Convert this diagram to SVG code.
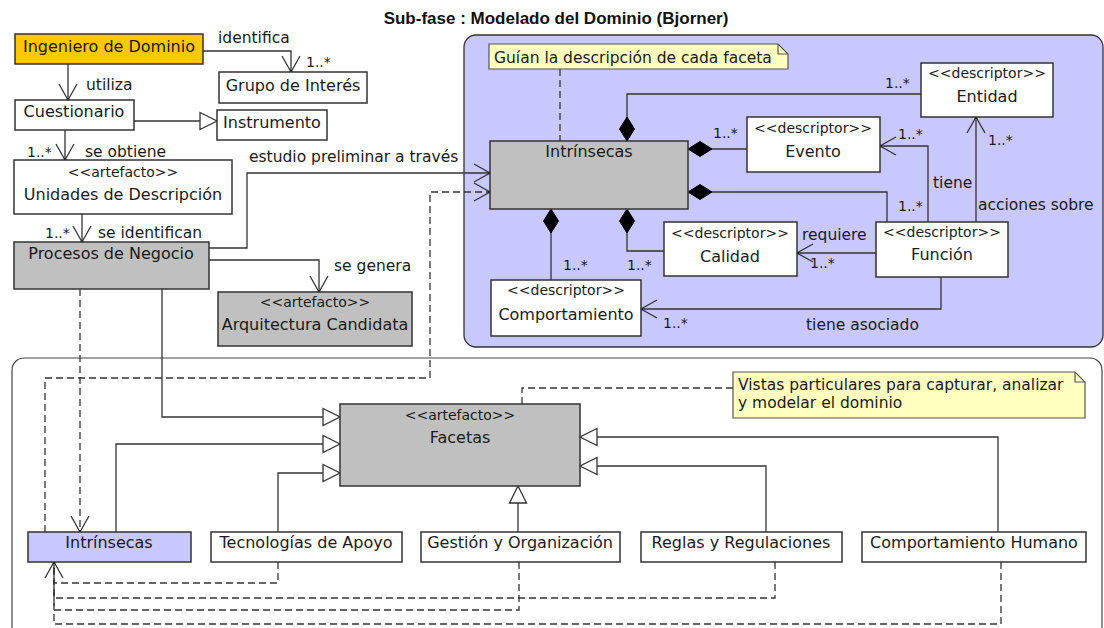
<svg xmlns="http://www.w3.org/2000/svg" width="1104" height="628" viewBox="0 0 1104 628">
  <style>
    .box { stroke: #333; stroke-width: 1.5; }
    .w { fill: #ffffff; }
    .g { fill: #c0c0c0; }
    .o { fill: #ffc800; }
    .p { fill: #c8c8ff; }
    .nt { fill: #ffffc0; stroke: #555; stroke-width: 1.2; }
    .t { font-family: "DejaVu Sans", "Liberation Sans", sans-serif; font-size: 16px; fill: #1a1a1a; }
    .st { font-size: 14px; }
    .lb { font-size: 15.5px; }
    .m { font-size: 14px; }
    .c { text-anchor: middle; }
    .ln { fill: none; stroke: #333; stroke-width: 1.3; }
    .dash { stroke-dasharray: 7 4; }
    .open { marker-end: url(#open); }
    .gen { marker-end: url(#gen); }
    .dia { marker-start: url(#dia); }
  </style>
  <defs>
    <marker id="open" viewBox="-18 -11 20 22" refX="0" refY="0" markerWidth="20" markerHeight="22" orient="auto" markerUnits="userSpaceOnUse">
      <path d="M-16,-9 L0,0 L-16,9" fill="none" stroke="#333" stroke-width="1.3"/>
      <circle cx="0" cy="0" r="1.6" fill="#111"/>
    </marker>
    <marker id="gen" viewBox="-19 -10 21 20" refX="0" refY="0" markerWidth="21" markerHeight="20" orient="auto" markerUnits="userSpaceOnUse">
      <path d="M-17,-8.5 L0,0 L-17,8.5 Z" fill="#ffffff" stroke="#333" stroke-width="1.3"/>
    </marker>
    <marker id="dia" viewBox="-1 -9 27 18" refX="0" refY="0" markerWidth="27" markerHeight="18" orient="auto" markerUnits="userSpaceOnUse">
      <path d="M0,0 L12,-7.5 L24,0 L12,7.5 Z" fill="#000" stroke="#000" stroke-width="1"/>
    </marker>
  </defs>

  <rect x="0" y="0" width="1104" height="628" fill="#ffffff"/>

  <!-- title -->
  <text x="556" y="24" text-anchor="middle" font-family="Liberation Sans, Arial, sans-serif" font-size="17" font-weight="bold" fill="#111">Sub-fase : Modelado del Dominio (Bjorner)</text>

  <!-- package panels -->
  <g id="panel-intrinsecas">
    <rect x="464" y="35" width="639" height="312" rx="12" fill="#c8c8ff" stroke="#333" stroke-width="1.3"/>
  </g>
  <g id="panel-facetas">
    <rect x="12" y="358" width="1090" height="290" rx="12" fill="#ffffff" stroke="#444" stroke-width="1.2"/>
  </g>

  <!-- connectors -->
  <g id="connectors">
    <path class="ln open" d="M203,51 H291 V72"/>
    <path class="ln open" d="M68,64 V100"/>
    <path class="ln gen" d="M134,121 H217"/>
    <path class="ln open" d="M65,130 V160"/>
    <path class="ln open" d="M82,214 V242"/>
    <path class="ln open" d="M209,248 H247 V173 H490"/>
    <path class="ln open" d="M209,260 H319 V292"/>
    <path class="ln dash open" d="M80,289 V532"/>
    <path class="ln dash open" d="M45,532 V378 H430 V192 H490"/>
    <path class="ln gen" d="M162,289 V417 H340"/>

    <!-- composition inside the panel -->
    <path class="ln dia" d="M627,141 V94 H921"/>
    <path class="ln dia" d="M688,149 H747"/>
    <path class="ln dia" d="M688,192 H887 V222"/>
    <path class="ln dia" d="M627,209 V251 H664"/>
    <path class="ln dia" d="M551,209 V280"/>
    <path class="ln open" d="M876,253 H797"/>
    <path class="ln open" d="M928,222 V146 H880"/>
    <path class="ln open" d="M976,222 V117"/>
    <path class="ln open" d="M941,277 V309 H641"/>
    <path class="ln dash" d="M560,69 V141"/>

    <!-- facet generalizations -->
    <path class="ln gen" d="M116,532 V444 H340"/>
    <path class="ln gen" d="M278,532 V473 H340"/>
    <path class="ln gen" d="M518,532 V486"/>
    <path class="ln gen" d="M766,532 V466 H580"/>
    <path class="ln gen" d="M998,532 V437 H580"/>
    <path class="ln dash" d="M733,388 H522 V404"/>

    <!-- dependencies toward Intrínsecas -->
    <path class="ln dash" d="M278,562 V583 H54 V562"/>
    <path class="ln dash" d="M775,562 V598 H54 V562"/>
    <path class="ln dash" d="M519,562 V610 H54 V562"/>
    <path class="ln dash open" d="M1001,562 V624 H54 V562"/>

    <!-- labels -->
    <text class="t lb" x="218" y="43">identifica</text>
    <text class="t m" x="306" y="67">1..*</text>
    <text class="t lb" x="86" y="90">utiliza</text>
    <text class="t m" x="27" y="157">1..*</text>
    <text class="t lb" x="85" y="157">se obtiene</text>
    <text class="t m" x="45" y="238">1..*</text>
    <text class="t lb" x="98" y="238">se identifican</text>
    <text class="t lb" x="249" y="162">estudio preliminar a través</text>
    <text class="t lb" x="334" y="271">se genera</text>
    <text class="t m" x="885" y="88">1..*</text>
    <text class="t m" x="713" y="138">1..*</text>
    <text class="t m" x="898" y="139">1..*</text>
    <text class="t m" x="988" y="145">1..*</text>
    <text class="t lb" x="933" y="188">tiene</text>
    <text class="t m" x="898" y="211">1..*</text>
    <text class="t lb" x="978" y="210">acciones sobre</text>
    <text class="t lb" x="802" y="240">requiere</text>
    <text class="t m" x="810" y="268">1..*</text>
    <text class="t m" x="563" y="270">1..*</text>
    <text class="t m" x="627" y="270">1..*</text>
    <text class="t m" x="663" y="328">1..*</text>
    <text class="t lb" x="806" y="330">tiene asociado</text>
  </g>

  <!-- nodes -->
  <g id="n-ingeniero">
    <rect class="box o" x="15" y="34" width="188" height="30"/>
    <text class="t c" x="109" y="52">Ingeniero de Dominio</text>
  </g>
  <g id="n-grupo">
    <rect class="box w" x="219" y="72" width="148" height="31"/>
    <text class="t c" x="293" y="91">Grupo de Interés</text>
  </g>
  <g id="n-cuestionario">
    <rect class="box w" x="15" y="100" width="119" height="30"/>
    <text class="t c" x="74" y="117">Cuestionario</text>
  </g>
  <g id="n-instrumento">
    <rect class="box w" x="217" y="110" width="110" height="30"/>
    <text class="t c" x="272" y="128">Instrumento</text>
  </g>
  <g id="n-unidades">
    <rect class="box w" x="14" y="160" width="218" height="54"/>
    <text class="t st c" x="123" y="177">&lt;&lt;artefacto&gt;&gt;</text>
    <text class="t c" x="123" y="200">Unidades de Descripción</text>
  </g>
  <g id="n-procesos">
    <rect class="box g" x="14" y="242" width="195" height="47"/>
    <text class="t c" x="111" y="259">Procesos de Negocio</text>
  </g>
  <g id="n-arquitectura">
    <rect class="box g" x="218" y="292" width="194" height="54"/>
    <text class="t st c" x="315" y="307">&lt;&lt;artefacto&gt;&gt;</text>
    <text class="t c" x="315" y="330">Arquitectura Candidata</text>
  </g>

  <g id="note-guia">
    <path class="nt" d="M489,44 H778 L788,54 V69 H489 Z"/>
    <path d="M778,44 V54 H788" fill="none" stroke="#555" stroke-width="1.2"/>
    <text class="t lb" x="494" y="63">Guían la descripción de cada faceta</text>
  </g>
  <g id="n-intrinsecas-sup">
    <rect class="box g" x="490" y="141" width="198" height="68"/>
    <text class="t c" x="589" y="157">Intrínsecas</text>
  </g>
  <g id="n-entidad">
    <rect class="box w" x="921" y="63" width="132" height="54"/>
    <text class="t st c" x="987" y="78">&lt;&lt;descriptor&gt;&gt;</text>
    <text class="t c" x="987" y="102">Entidad</text>
  </g>
  <g id="n-evento">
    <rect class="box w" x="747" y="117" width="133" height="55"/>
    <text class="t st c" x="813" y="133">&lt;&lt;descriptor&gt;&gt;</text>
    <text class="t c" x="813" y="157">Evento</text>
  </g>
  <g id="n-calidad">
    <rect class="box w" x="664" y="222" width="133" height="54"/>
    <text class="t st c" x="730" y="238">&lt;&lt;descriptor&gt;&gt;</text>
    <text class="t c" x="730" y="262">Calidad</text>
  </g>
  <g id="n-funcion">
    <rect class="box w" x="876" y="222" width="132" height="55"/>
    <text class="t st c" x="942" y="237">&lt;&lt;descriptor&gt;&gt;</text>
    <text class="t c" x="942" y="260">Función</text>
  </g>
  <g id="n-comportamiento">
    <rect class="box w" x="491" y="280" width="150" height="56"/>
    <text class="t st c" x="566" y="295">&lt;&lt;descriptor&gt;&gt;</text>
    <text class="t c" x="566" y="320">Comportamiento</text>
  </g>

  <g id="note-vistas">
    <path class="nt" d="M733,372 H1075 L1085,382 V418 H733 Z"/>
    <path d="M1075,372 V382 H1085" fill="none" stroke="#555" stroke-width="1.2"/>
    <text class="t lb" x="738" y="390">Vistas particulares para capturar, analizar</text>
    <text class="t lb" x="738" y="408">y modelar el dominio</text>
  </g>
  <g id="n-facetas">
    <rect class="box g" x="340" y="404" width="240" height="82"/>
    <text class="t st c" x="460" y="420">&lt;&lt;artefacto&gt;&gt;</text>
    <text class="t c" x="460" y="443">Facetas</text>
  </g>
  <g id="n-intrinsecas">
    <rect class="box p" x="28" y="532" width="163" height="30"/>
    <text class="t c" x="109" y="548">Intrínsecas</text>
  </g>
  <g id="n-tecnologias">
    <rect class="box w" x="211" y="532" width="191" height="30"/>
    <text class="t c" x="306" y="548">Tecnologías de Apoyo</text>
  </g>
  <g id="n-gestion">
    <rect class="box w" x="421" y="532" width="199" height="30"/>
    <text class="t c" x="520" y="548">Gestión y Organización</text>
  </g>
  <g id="n-reglas">
    <rect class="box w" x="641" y="532" width="201" height="30"/>
    <text class="t c" x="741" y="548">Reglas y Regulaciones</text>
  </g>
  <g id="n-humano">
    <rect class="box w" x="862" y="532" width="224" height="30"/>
    <text class="t c" x="974" y="548">Comportamiento Humano</text>
  </g>
</svg>
